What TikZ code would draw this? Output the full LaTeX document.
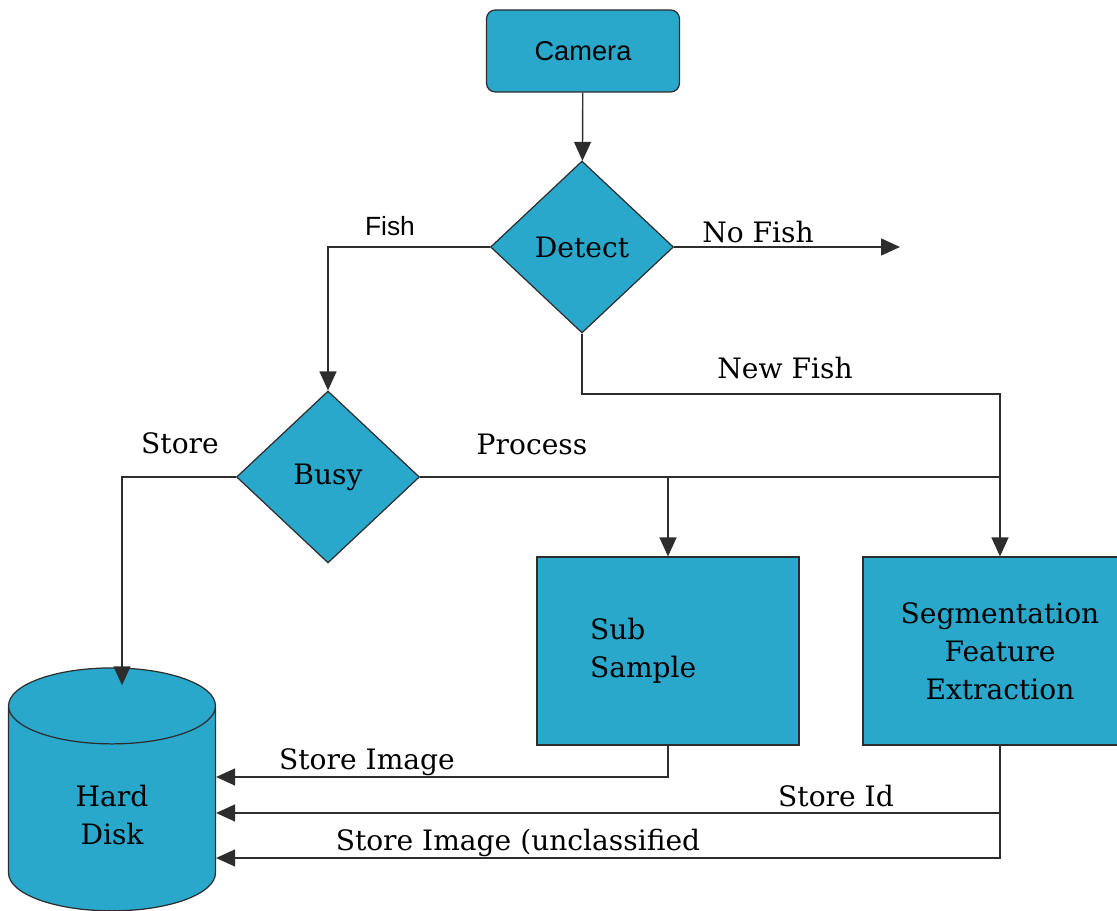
\documentclass[tikz,border=0pt]{standalone}
\usepackage{fontspec}
\setmainfont{DejaVu Serif}
\newfontfamily\labelsans{Liberation Sans}
\usetikzlibrary{positioning,calc}
\usetikzlibrary{arrows.meta}
\usetikzlibrary{shapes.geometric}
\definecolor{boxblue}{RGB}{42,168,204}
\definecolor{linegray}{RGB}{45,45,45}

\begin{document}
\begin{tikzpicture}[x=0.02cm, y=-0.02cm,
  box/.style={draw=linegray, fill=boxblue, line width=0.7pt, font=\fontsize{16}{21.5}\selectfont},
  decision/.style={box, diamond, minimum width=3.66cm, minimum height=3.44cm, inner sep=0pt},
  flow/.style={->, line width=0.8pt, draw=linegray, >={Triangle[length=0.38cm,width=0.34cm]}},
  wire/.style={line width=0.8pt, draw=linegray},
  lbl/.style={font=\fontsize{16}{20}\selectfont, inner sep=1pt},
  sanslbl/.style={font=\labelsans\fontsize{15}{17}\selectfont, inner sep=1pt}]
  \useasboundingbox (0,0) rectangle (1117,911);

  \node[box, rounded corners=5pt, minimum width=3.86cm, minimum height=1.64cm, font=\labelsans\fontsize{15.5}{18}\selectfont] at (583,51) (camera) {Camera};
  \node[decision] at (582,247) (detect) {Detect};
  \node[decision] at (328,477) (busy) {Busy};

  \node[box, minimum width=5.24cm, minimum height=3.76cm, text width=3.12cm, inner xsep=1.06cm, align=left] at (668,651) (sub) {Sub\\Sample};
  \node[box, minimum width=5.48cm, minimum height=3.76cm, align=center] at (1000,651) (seg) {Segmentation\\Feature\\Extraction};

  \node[box, cylinder, shape border rotate=90, aspect=0.9, minimum width=4.14cm, minimum height=4.86cm, align=center] at (112,815) (disk) {Hard\\Disk};

  % top part
  \coordinate (nofish) at (900,247);
  \coordinate (join) at (1000,394);
  \draw[flow] (camera) -- (detect);
  \draw[flow] (detect.east) -- (nofish);
  \draw[flow] (detect.west) -| (busy.north);
  \draw[flow] (detect.south) |- (join) -- (seg.north);

  % busy branches
  \draw[wire] (busy.east) -- (busy.east -| seg.north);
  \draw[flow] (busy.east -| sub.north) -- (sub.north);
  \draw[flow] (busy.west) -| ($(disk.north)+(10,18)$);

  % back to the disk
  \draw[flow] (sub.south) |- ($(disk.east)+(0,-38)$);
  \draw[flow] (seg.south) |- ($(disk.east)+(0,-2)$);
  \draw[flow] (seg.south) |- ($(disk.east)+(0,43)$);

  \node[sanslbl] at (390,226) (l_fish) {Fish};
  \node[lbl] at (758,232) (l_nofish) {No Fish};
  \node[lbl] at (785,368) (l_newfish) {New Fish};
  \node[lbl] at (180,443) (l_store) {Store};
  \node[lbl] at (532,444) (l_process) {Process};
  \node[lbl] at (367,762) (l_img) {Store Image};
  \node[lbl] at (836,796) (l_id) {Store Id};
  \node[lbl] at (518,843) (l_unc) {Store Image (unclassified};

\end{tikzpicture}
\end{document}
